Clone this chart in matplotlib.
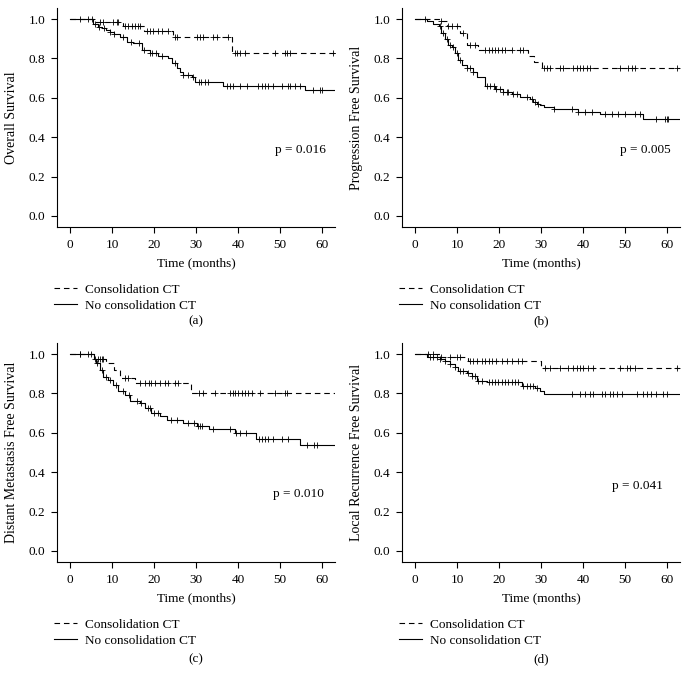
import numpy as np
import matplotlib
matplotlib.use("Agg")
import matplotlib.pyplot as plt
from matplotlib.lines import Line2D

plt.rcParams['font.family'] = ['Liberation Serif', 'DejaVu Serif']
plt.rcParams['font.size'] = 9.5

# last follow-up time (months)
t_end = 63.0

# (a) overall survival
a_con_t = [0, 5.8, 12.5, 17.5, 24.5, 38.5]
a_con_s = [1.0, 0.983, 0.965, 0.939, 0.910, 0.826]
a_con_cens = [7.1, 7.9, 10.3, 11.1, 11.5, 13.1, 13.9, 14.7, 15.5, 16.3, 16.7, 18.3, 19.0, 19.8, 21.0,
              21.8, 23.4, 25.0, 25.4, 30.2, 31.0, 31.7, 34.1, 34.9, 37.7, 39.3, 39.7, 40.5, 41.7,
              48.8, 51.2, 51.6, 52.4, 62.7]
a_no_t = [0, 5.5, 6.7, 7.5, 8.5, 9.5, 10.5, 11.9, 13.5, 15.0, 17.1, 19.0, 21.0, 23.4, 24.2, 25.4,
          26.2, 27.0, 29.0, 29.8, 36.5, 56.0]
a_no_s = [1.0, 0.975, 0.961, 0.952, 0.943, 0.935, 0.922, 0.910, 0.885, 0.876, 0.843, 0.826, 0.812,
          0.800, 0.775, 0.750, 0.733, 0.716, 0.707, 0.680, 0.660, 0.642]
a_no_cens = [2.4, 4.4, 5.2, 6.0, 7.0, 8.0, 9.5, 10.5, 12.5, 14.5, 16.5, 17.5, 19.0, 19.5, 20.5, 22.0,
             25.0, 27.0, 28.0, 29.2, 30.6, 31.3, 32.1, 32.9, 37.3, 38.1, 38.9, 40.5, 42.1, 44.8,
             45.6, 46.4, 47.2, 48.4, 50.4, 52.0, 52.4, 53.6, 54.8, 57.9, 59.5, 59.9]

# (b) progression free survival
b_con_t = [0, 6.0, 7.5, 10.8, 12.4, 14.9, 27.0, 28.4, 30.2]
b_con_s = [1.0, 0.988, 0.964, 0.927, 0.868, 0.843, 0.81, 0.783, 0.753]
b_con_cens = [2.4, 6.3, 7.9, 8.7, 9.9, 11.5, 13.1, 14.3, 16.7, 17.5, 18.3, 19.0, 19.8, 20.6, 21.4,
              23.0, 25.0, 25.8, 30.6, 31.4, 32.1, 34.5, 35.3, 37.7, 38.5, 39.3, 40.1, 40.9, 41.7,
              48.8, 50.8, 51.6, 52.4, 62.3]
b_no_t = [0, 2.8, 4.4, 5.6, 6.3, 7.1, 7.9, 8.7, 9.5, 10.3, 11.1, 12.3, 13.9, 14.7, 16.7, 19.0, 21.0,
          23.0, 25.0, 27.4, 28.2, 29.0, 29.8, 30.6, 33.0, 38.9, 44.1, 54.4]
b_no_s = [1.0, 0.99, 0.975, 0.967, 0.93, 0.90, 0.868, 0.859, 0.826, 0.79, 0.766, 0.749, 0.732, 0.704,
          0.661, 0.644, 0.63, 0.617, 0.605, 0.594, 0.58, 0.571, 0.563, 0.555, 0.543, 0.53, 0.516,
          0.492]
b_no_cens = [6.0, 6.7, 7.5, 8.3, 9.1, 9.9, 10.7, 12.3, 13.1, 13.9, 17.1, 17.9, 18.7, 19.4, 20.2, 21.0,
             21.8, 22.2, 23.4, 24.2, 26.6, 27.8, 28.6, 29.4, 33.0, 37.3, 38.9, 40.5, 42.1, 45.2,
             46.8, 48.4, 50.0, 52.4, 53.6, 57.5, 59.5, 59.9, 60.3]

# (c) distant metastasis free survival
c_con_t = [0, 5.6, 8.5, 10.5, 12.0, 15.5, 28.8]
c_con_s = [1.0, 0.975, 0.953, 0.919, 0.877, 0.855, 0.80]
c_con_cens = [2.4, 5.0, 6.0, 6.7, 7.1, 7.5, 7.9, 13.1, 13.9, 16.7, 17.9, 18.7, 19.4, 20.2, 21.4, 22.6,
              23.4, 25.0, 25.8, 30.6, 31.7, 34.5, 38.1, 38.9, 39.3, 40.1, 40.9, 41.7, 42.5, 43.3,
              45.2, 48.8, 51.2, 51.6]
c_no_t = [0, 5.8, 6.3, 7.1, 7.9, 9.1, 10.3, 11.5, 13.1, 14.3, 16.7, 17.9, 19.4, 21.4, 23.0, 27.0,
          30.2, 33.0, 39.3, 44.4, 54.8]
c_no_s = [1.0, 0.975, 0.953, 0.919, 0.885, 0.869, 0.843, 0.81, 0.793, 0.759, 0.751, 0.726, 0.70,
          0.687, 0.667, 0.65, 0.636, 0.62, 0.599, 0.569, 0.540]
c_no_cens = [2.4, 4.4, 6.5, 7.5, 8.5, 9.5, 11.0, 12.5, 14.0, 16.0, 17.0, 18.5, 19.0, 20.0, 21.0, 24.0,
             25.5, 28.0, 29.5, 30.5, 31.0, 31.5, 34.0, 38.0, 39.5, 40.5, 42.0, 45.0, 45.6, 46.4,
             47.2, 48.4, 50.4, 52.0, 56.5, 58.0, 58.8]

# (d) local recurrence free survival
d_con_t = [0, 6.0, 12.5, 30.0]
d_con_s = [1.0, 0.985, 0.963, 0.929]
d_con_cens = [3.2, 4.4, 6.3, 8.3, 9.9, 10.7, 13.1, 13.9, 14.7, 15.9, 16.7, 17.5, 18.3, 19.4, 20.6,
              21.8, 23.0, 24.6, 25.4, 31.0, 32.1, 34.5, 36.5, 37.7, 38.5, 39.3, 40.1, 41.3, 42.5,
              48.8, 50.4, 51.2, 52.4, 62.3]
d_no_t = [0, 2.8, 6.0, 7.1, 8.3, 9.5, 10.3, 12.3, 13.5, 14.7, 17.1, 25.4, 28.6, 29.8, 30.6]
d_no_s = [1.0, 0.985, 0.975, 0.963, 0.949, 0.933, 0.912, 0.904, 0.887, 0.865, 0.859, 0.840, 0.828,
          0.811, 0.795]
d_no_cens = [3.6, 4.4, 5.2, 6.0, 7.1, 8.3, 9.5, 10.7, 11.5, 12.7, 13.5, 14.3, 15.1, 15.9, 17.5, 18.3,
             19.0, 19.8, 20.6, 21.4, 22.2, 23.0, 23.8, 24.6, 25.8, 26.6, 27.4, 28.2, 29.0, 37.3,
             39.3, 40.5, 41.7, 42.5, 44.5, 45.2, 46.4, 47.2, 48.0, 49.2, 52.8, 54.4, 55.2, 56.3,
             57.5, 59.1, 59.9]

ylabels = ["Overall Survival", "Progression Free Survival",
           "Distant Metastasis Free Survival", "Local Recurrence Free Survival"]
pvalues = ["p = 0.016", "p = 0.005", "p = 0.010", "p = 0.041"]
p_pos = [(48.8, 0.335), (48.8, 0.335), (48.4, 0.29), (46.9, 0.33)]
captions = ["(a)", "(b)", "(c)", "(d)"]
group_labels = ["Consolidation CT", "No consolidation CT"]

panels = [
    (a_con_t, a_con_s, a_con_cens, a_no_t, a_no_s, a_no_cens),
    (b_con_t, b_con_s, b_con_cens, b_no_t, b_no_s, b_no_cens),
    (c_con_t, c_con_s, c_con_cens, c_no_t, c_no_s, c_no_cens),
    (d_con_t, d_con_s, d_con_cens, d_no_t, d_no_s, d_no_cens),
]

dash = (0, (5, 3.5))


def step_value(t, s, x):
    idx = np.searchsorted(t, x, side='right') - 1
    return np.asarray(s)[idx]


def km_curve(ax, t, s, cens, ls):
    tt = list(t) + [t_end]
    ss = list(s) + [s[-1]]
    ax.step(tt, ss, where='post', color='black', lw=0.8, linestyle=ls)
    ax.plot(cens, step_value(t, s, cens), linestyle='none', marker='+', color='black',
            markersize=4, markeredgewidth=0.6)


fig = plt.figure(figsize=(6.9, 6.9), dpi=100)
fig.patch.set_facecolor('white')

lefts = [57 / 690, 402 / 690, 57 / 690, 402 / 690]
bottoms = [1 - 227 / 690, 1 - 227 / 690, 1 - 562 / 690, 1 - 562 / 690]
cap_y = [1 - 321 / 690, 1 - 321 / 690, 1 - 659 / 690, 1 - 659 / 690]

for i, (ct, cs, cc, nt, ns, nc) in enumerate(panels):
    ax = fig.add_axes([lefts[i], bottoms[i], 278 / 690, 219 / 690])
    km_curve(ax, ct, cs, cc, dash)
    km_curve(ax, nt, ns, nc, '-')

    ax.set_xlim(-3.1, 63.1)
    ax.set_ylim(-0.056, 1.056)
    ax.set_xticks(np.arange(0, 61, 10))
    ax.set_yticks(np.arange(0, 1.01, 0.2))
    ax.set_yticklabels(["%.1f" % v for v in np.arange(0, 1.01, 0.2)])
    ax.spines['top'].set_visible(False)
    ax.spines['right'].set_visible(False)
    ax.spines['left'].set_linewidth(0.8)
    ax.spines['bottom'].set_linewidth(0.8)
    ax.tick_params(direction='out', length=4.5, width=0.8, pad=4)

    ax.set_ylabel(ylabels[i], fontsize=10)
    ax.yaxis.set_label_coords(-0.14, 0.5)
    ax.set_xlabel("Time (months)")
    ax.xaxis.set_label_coords(0.5, -0.14)

    ax.text(p_pos[i][0], p_pos[i][1], pvalues[i], va='center', ha='left')

    handles = [Line2D([0], [0], color='black', lw=0.8, linestyle=dash),
               Line2D([0], [0], color='black', lw=0.8, linestyle='-')]
    ax.legend(handles, group_labels, loc='upper left', bbox_to_anchor=(-0.01, -0.258),
              frameon=False, borderpad=0, borderaxespad=0, handlelength=1.75,
              handletextpad=0.6, labelspacing=0.28)

    fig.text(lefts[i] + 139 / 690, cap_y[i], captions[i], ha='center', va='center')

fig.savefig("out.png", dpi=100, facecolor='white')
